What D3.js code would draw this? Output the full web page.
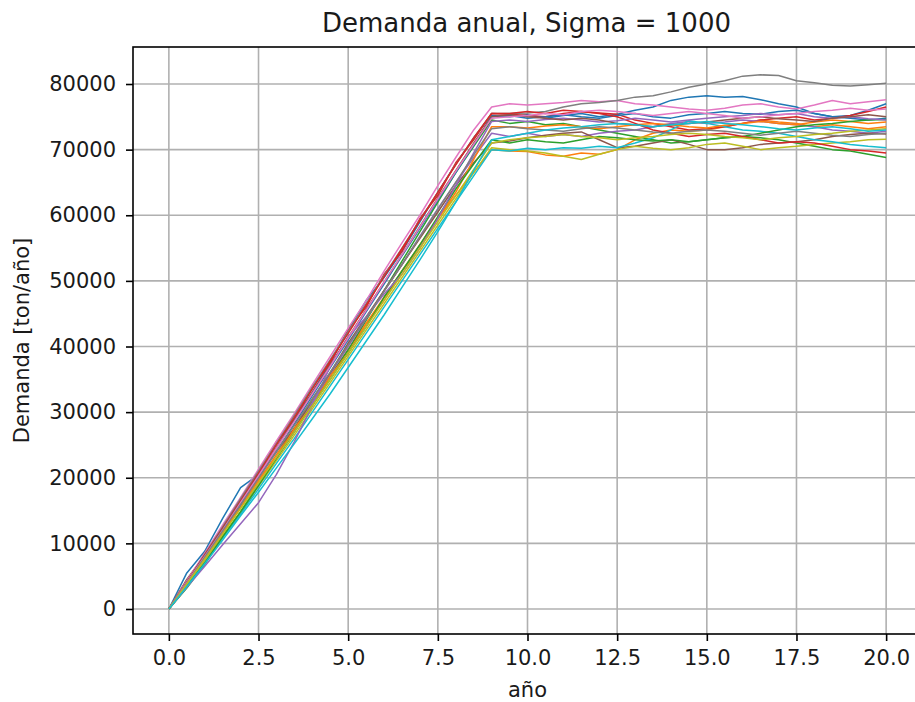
<!DOCTYPE html>
<html>
<head>
<meta charset="utf-8">
<script src="https://cdn.jsdelivr.net/npm/d3@7"></script>
<style>
  body { margin: 0; background: #fff; overflow: hidden; }
  text { font-family: "DejaVu Sans", sans-serif; fill: #1a1a1a; }
</style>
</head>
<body>
<script>
// years sampled every half year
const years = d3.range(0, 20.01, 0.5);

const xTicks = [0, 2.5, 5, 7.5, 10, 12.5, 15, 17.5, 20];
const yTicks = [0, 10000, 20000, 30000, 40000, 50000, 60000, 70000, 80000];

const colors = ["#1f77b4", "#ff7f0e", "#2ca02c", "#d62728", "#9467bd",
                "#8c564b", "#e377c2", "#7f7f7f", "#bcbd22", "#17becf"];

const s0 = [0, 5500, 8800, 13800, 18500, 20500, 24500, 29000, 33000, 37500, 42500, 47000, 50500, 54500, 59000, 63500, 67800, 71800, 75200,
  75000, 75300, 74800, 75200, 75500, 75000, 75400, 76000, 76500, 77500, 78000, 78200, 78000, 78100, 77600, 77000, 76500, 75500, 75000, 75200, 76000, 77000];
const s1 = [0, 3500, 7500, 11500, 15500, 19500, 23500, 27500, 31500, 35500, 39500, 43500, 47500, 51500, 55500, 59500, 63000, 66500, 70000,
  69800, 69700, 69200, 69000, 69500, 69300, 70000, 71500, 72500, 73000, 72800, 73000, 73500, 74000, 74500, 74200, 74000, 73500, 73800, 73500, 73200, 73500];
const s2 = [0, 3200, 6800, 11000, 14800, 19000, 23000, 27500, 31500, 35500, 39500, 44000, 48500, 53000, 57500, 62000, 66500, 70500, 74500,
  74000, 74300, 73800, 74000, 73500, 73000, 72500, 72000, 71500, 71000, 71200, 71500, 71800, 72000, 71800, 71500, 71000, 70500, 70000, 69800, 69300, 68800];
const s3 = [0, 3800, 8500, 12000, 16800, 20500, 25500, 28800, 33800, 37500, 42500, 46000, 51000, 54500, 59500, 63000, 68000, 71500, 75500,
  75400, 75200, 75000, 75500, 75800, 75600, 75400, 74500, 74000, 73500, 73000, 73200, 73500, 74000, 74500, 74800, 75000, 74500, 74800, 75200, 75800, 76500];
const s4 = [0, 3800, 7600, 11000, 14500, 19000, 23000, 27000, 31500, 35800, 40000, 44200, 48500, 52500, 56800, 61000, 65000, 68800, 72500,
  72000, 72500, 72000, 72300, 72000, 72500, 72800, 73000, 73500, 74000, 74300, 74000, 74200, 74500, 74300, 74000, 73800, 73500, 73000, 72800, 72500, 72800];
const s5 = [0, 4500, 8200, 12000, 16000, 20300, 24000, 27500, 32000, 36000, 40500, 44500, 48500, 52500, 56500, 60500, 64500, 68000, 71000,
  71300, 71800, 72200, 72500, 72700, 71500, 70300, 70500, 71000, 71500, 70800, 70000, 70000, 70300, 70800, 71000, 71200, 71500, 72000, 72300, 72500, 72400];
const s6 = [0, 4300, 8500, 12800, 17000, 21300, 25600, 29800, 34200, 38500, 42800, 47000, 51500, 55800, 60000, 64500, 68800, 73000, 76500,
  77000, 76800, 77000, 77200, 77500, 77300, 77500, 77000, 76800, 76500, 76200, 76000, 76300, 76800, 77000, 76500, 76200, 76800, 77500, 77000, 77300, 77600];
const s7 = [0, 4100, 8300, 12500, 16800, 21000, 25200, 29500, 33800, 38000, 42300, 46500, 50800, 55000, 59300, 63500, 67800, 71800, 75500,
  75500, 75600, 75800, 76500, 77000, 77200, 77500, 78000, 78200, 78800, 79500, 80000, 80500, 81200, 81400, 81300, 80500, 80200, 79800, 79700, 79900, 80100];
const s8 = [0, 3600, 7300, 11000, 14800, 18700, 22600, 26500, 30500, 34500, 38500, 42500, 46500, 50500, 54500, 58500, 62500, 66500, 70300,
  70000, 69800, 69500, 69000, 68500, 69300, 70000, 70500, 70200, 70000, 70300, 70800, 71000, 70500, 70000, 70300, 70500, 70800, 71000, 71200, 71500, 71600];
const s9 = [0, 3500, 7000, 10800, 14500, 18300, 22200, 26000, 30000, 34000, 38000, 42000, 46000, 50000, 54000, 58000, 62000, 66000, 70000,
  69800, 70200, 70000, 70300, 70200, 70500, 70300, 71000, 71800, 73000, 74400, 74000, 73500, 73000, 72800, 72500, 72000, 71500, 71200, 70800, 70500, 70300];
const s10 = [0, 3900, 7800, 11800, 15800, 20000, 24000, 28200, 32500, 36800, 41000, 45300, 49500, 53800, 58000, 62300, 66500, 70700, 75000,
  75200, 74800, 75000, 75300, 75000, 74800, 75200, 75500, 75000, 74800, 75300, 75500, 75800, 75500, 75400, 75800, 76000, 75500, 75000, 74800, 74500, 74800];
const s11 = [0, 3900, 7700, 11800, 15400, 19800, 23000, 27500, 31000, 35500, 39000, 43500, 47000, 51500, 55000, 59500, 63500, 68500, 73500,
  73500, 73300, 73600, 73800, 73500, 73200, 73500, 73800, 74000, 73800, 73500, 73300, 73700, 74000, 74300, 74000, 73800, 74200, 74500, 74300, 74000, 74200];
const s12 = [0, 3400, 7000, 11000, 14800, 18800, 23000, 27000, 31000, 35000, 39000, 43000, 47500, 51500, 55500, 59800, 64000, 67800, 71500,
  71000, 71500, 71200, 71000, 71500, 72000, 71800, 71500, 71300, 71500, 71200, 71500, 71800, 72000, 72500, 73000, 73500, 73800, 74000, 74300, 74500, 74600];
const s13 = [0, 4100, 8200, 12300, 16500, 20700, 25000, 29200, 33500, 37800, 42000, 46300, 50600, 54900, 59200, 63500, 67700, 71800, 75500,
  75500, 75800, 75500, 76000, 75800, 75500, 75000, 74000, 73000, 72500, 72000, 72300, 72500, 72000, 71500, 71000, 71200, 71000, 70500, 70000, 69800, 69500];
const s14 = [0, 3300, 6500, 9800, 13000, 16200, 20500, 25500, 31000, 37000, 41500, 44500, 48000, 51000, 55000, 59500, 64500, 69500, 74300,
  74500, 74300, 74600, 74800, 74500, 74200, 74400, 74800, 74500, 74200, 74500, 74800, 75000, 75200, 75500, 75300, 75500, 75000, 74800, 75000, 74700, 74500];
const s15 = [0, 4000, 8100, 12200, 16300, 20400, 24600, 28800, 33000, 37200, 41400, 45600, 49800, 54000, 58300, 62600, 66800, 71000, 75000,
  75300, 75000, 74800, 74500, 74800, 74500, 74000, 73800, 73500, 73800, 74000, 74200, 74500, 74800, 75000, 74700, 74500, 74300, 74800, 75000, 75300, 75000];
const s16 = [0, 4000, 8000, 12000, 16200, 20300, 24500, 28600, 32800, 37000, 41300, 45500, 49800, 54000, 58200, 62500, 66700, 70800, 74800,
  75000, 75200, 75500, 75300, 75800, 76000, 75800, 75500, 75200, 75500, 75800, 75500, 75200, 74800, 75000, 75300, 75500, 75800, 76000, 76300, 76000, 76200];
const s17 = [0, 3900, 7900, 11900, 15900, 19900, 24000, 28000, 32000, 36100, 40200, 44300, 48400, 52500, 56700, 60900, 65000, 69200, 73200,
  73500, 73200, 73000, 72800, 73200, 73500, 73300, 73000, 72700, 72500, 72800, 73000, 72800, 72500, 72200, 72500, 72800, 72500, 72200, 72000, 72300, 72500];
const s18 = [0, 3800, 7600, 11400, 15300, 19200, 23100, 27000, 31000, 35000, 39000, 43000, 47000, 51000, 55000, 59000, 63000, 67000, 71000,
  71500, 71800, 72000, 72300, 72000, 71800, 71500, 71800, 72000, 72300, 72500, 72300, 72000, 71800, 71500, 71800, 72000, 72300, 72500, 72800, 73000, 73200];
const s19 = [0, 3400, 6900, 10500, 14200, 17800, 21500, 25200, 29000, 32800, 36800, 40800, 44800, 49000, 53200, 57500, 62000, 66800, 71500,
  72000, 72500, 73000, 73300, 73500, 73800, 74000, 73800, 73500, 73800, 74000, 74300, 74000, 73800, 73500, 73200, 73000, 73300, 73500, 73200, 72800, 73000];

const series = [s0, s1, s2, s3, s4, s5, s6, s7, s8, s9,
                s10, s11, s12, s13, s14, s15, s16, s17, s18, s19];

const W = 915, H = 702;
const svg = d3.select("body").append("svg")
    .attr("width", W)
    .attr("height", H);

const mLeft = 133, mRight = 922, mTop = 47, mBottom = 634;

const x = d3.scaleLinear().domain([-1, 21]).range([mLeft, mRight]);
const y = d3.scaleLinear().domain([-3810, 85640]).range([mBottom, mTop]);

// grid
svg.append("g").selectAll("line")
    .data(xTicks).enter().append("line")
    .attr("x1", d => x(d)).attr("x2", d => x(d))
    .attr("y1", mTop).attr("y2", mBottom)
    .style("stroke", "#b0b0b0").style("stroke-width", 1.6);
svg.append("g").selectAll("line")
    .data(yTicks).enter().append("line")
    .attr("x1", mLeft).attr("x2", mRight)
    .attr("y1", d => y(d)).attr("y2", d => y(d))
    .style("stroke", "#b0b0b0").style("stroke-width", 1.6);

const line = d3.line()
    .x((d, i) => x(years[i]))
    .y(d => y(d));

svg.append("g").selectAll("path")
    .data(series).enter().append("path")
    .attr("d", d => line(d))
    .style("fill", "none")
    .style("stroke", (d, i) => colors[i % 10])
    .style("stroke-width", 1.5)
    .style("stroke-linejoin", "round");

// frame
svg.append("rect")
    .attr("x", mLeft).attr("y", mTop)
    .attr("width", mRight - mLeft).attr("height", mBottom - mTop)
    .style("fill", "none").style("stroke", "#000").style("stroke-width", 1.6);

const xAxis = svg.append("g")
    .attr("transform", `translate(0,${mBottom})`)
    .call(d3.axisBottom(x).tickValues(xTicks).tickFormat(d3.format(".1f")).tickSize(7).tickPadding(9));
const yAxis = svg.append("g")
    .attr("transform", `translate(${mLeft},0)`)
    .call(d3.axisLeft(y).tickValues(yTicks).tickFormat(d => d).tickSize(7).tickPadding(10));

[xAxis, yAxis].forEach(a => {
    a.select(".domain").remove();
    a.selectAll("line").style("stroke", "#000").style("stroke-width", 1.6);
    a.selectAll("text").style("font-size", "21px").style("font-family", "DejaVu Sans").style("fill", "#1a1a1a");
});

svg.append("text")
    .attr("x", (mLeft + mRight) / 2 - 1).attr("y", 32)
    .attr("text-anchor", "middle")
    .style("font-size", "26px")
    .text("Demanda anual, Sigma = 1000");

svg.append("text")
    .attr("x", x(10)).attr("y", 697)
    .attr("text-anchor", "middle")
    .style("font-size", "21px")
    .text("año");

svg.append("text")
    .attr("transform", `translate(29,${(mTop + mBottom) / 2}) rotate(-90)`)
    .attr("text-anchor", "middle")
    .style("font-size", "21px")
    .text("Demanda [ton/año]");
</script>
</body>
</html>
